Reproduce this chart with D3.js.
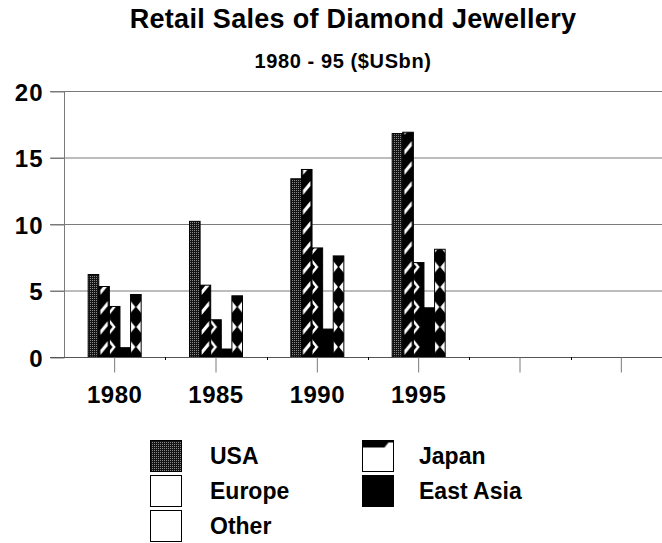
<!DOCTYPE html>
<html>
<head>
<meta charset="utf-8">
<script src="https://cdn.jsdelivr.net/npm/d3@7"></script>
<style>
  html, body { margin: 0; padding: 0; background: #fff; }
  svg { display: block; font-family: "Liberation Sans", Arial, sans-serif; }
</style>
</head>
<body>
<svg id="chart" width="662" height="543"></svg>
<script>
// Retail sales of diamond jewellery by region, $US billions
const years = ["1980", "1985", "1990", "1995"];
const xTickLabels = ["1980", "1985", "1990", "1995", "", ""];
const seriesNames = ["USA", "Japan", "Europe", "East Asia", "Other"];
const usa = [6.2, 10.2, 13.4, 16.8];
const japan = [5.3, 5.4, 14.1, 16.9];
const europe = [3.8, 2.8, 8.2, 7.1];
const eastAsia = [0.7, 0.6, 2.1, 3.7];
const other = [4.7, 4.6, 7.6, 8.1];
const yTicks = [0, 5, 10, 15, 20];
const titleText = "Retail Sales of Diamond Jewellery";
const subtitleText = "1980 - 95 ($USbn)";

const seriesValues = { "USA": usa, "Japan": japan, "Europe": europe, "East Asia": eastAsia, "Other": other };

const svg = d3.select("#chart");
const defs = svg.append("defs");

const x = d3.scaleBand().domain(d3.range(xTickLabels.length)).range([64, 672]);
const y = d3.scaleLinear().domain([0, 20]).range([357, 91]);
const inner = d3.scaleBand().domain(seriesNames).range([-26.5, 26.5]);

// ---- titles
svg.append("text")
  .attr("x", 353).attr("y", 28)
  .attr("text-anchor", "middle")
  .style("font-size", "27px").style("font-weight", "bold")
  .style("letter-spacing", "0.3px")
  .text(titleText);
svg.append("text")
  .attr("x", 343).attr("y", 68)
  .attr("text-anchor", "middle")
  .style("font-size", "20px").style("font-weight", "bold")
  .style("letter-spacing", "0.6px")
  .text(subtitleText);

// ---- gridlines
svg.append("g").selectAll("line").data(yTicks).join("line")
  .attr("x1", 50).attr("x2", 662)
  .attr("y1", d => y(d) + 0.5).attr("y2", d => y(d) + 0.5)
  .attr("stroke", "#7a7a7a").attr("stroke-width", 1);

// ---- y axis
const yAxis = svg.append("g")
  .attr("transform", "translate(64.5,0.5)")
  .call(d3.axisLeft(y).tickValues(yTicks).tickSize(14).tickPadding(7).tickFormat(d3.format("d")));
yAxis.select(".domain").attr("stroke", "#7a7a7a").attr("d", `M0,${y(20)}V${y(0)}`);
yAxis.selectAll(".tick line").attr("stroke", "#7a7a7a");
yAxis.selectAll(".tick text").attr("dy", "0.36em")
  .style("font-size", "24px").style("font-weight", "bold")
  .style("letter-spacing", "1px").attr("fill", "#000");

// ---- patterns
const usaPat = defs.append("pattern").attr("id", "pat-usa")
  .attr("patternUnits", "userSpaceOnUse").attr("width", 2).attr("height", 2);
usaPat.append("rect").attr("width", 2).attr("height", 2).attr("fill", "#141414");
usaPat.append("rect").attr("width", 1).attr("height", 1).attr("fill", "#8a8a8a");

const period = 20;
function barPattern(id, name, bx, bw) {
  const p = defs.append("pattern").attr("id", id)
    .attr("patternUnits", "userSpaceOnUse")
    .attr("x", bx).attr("y", y(0))
    .attr("width", bw).attr("height", period);
  const w = bw;
  if (name === "Japan") {
    p.append("rect").attr("width", w).attr("height", period).attr("fill", "#000");
    p.append("polygon").attr("fill", "#fff")
      .attr("points", `${w*0.15},13 ${w*0.85},4 ${w*0.85},9 ${w*0.15},18`);
  } else if (name === "Europe") {
    p.append("rect").attr("width", w).attr("height", period).attr("fill", "#000");
    p.append("polygon").attr("fill", "#fff")
      .attr("points", `0,2 ${w*0.6},10 0,18 0,14 ${w*0.3},10 0,6`);
  } else if (name === "Other") {
    p.append("rect").attr("width", w).attr("height", period).attr("fill", "#000");
    p.append("polygon").attr("fill", "#fff")
      .attr("points", `0,4 ${w*0.45},10 0,16`);
    p.append("polygon").attr("fill", "#fff")
      .attr("points", `${w},4 ${w*0.55},10 ${w},16`);
  }
  return `url(#${id})`;
}

// ---- bars
const barData = [];
years.forEach((yr, i) => {
  seriesNames.forEach((s, j) => {
    barData.push({ slot: i, series: s, value: seriesValues[s][i], sIdx: j });
  });
});

svg.append("g").selectAll("rect").data(barData).join("rect")
  .attr("x", d => x(d.slot) + x.bandwidth() / 2 + inner(d.series))
  .attr("y", d => y(d.value))
  .attr("width", inner.bandwidth())
  .attr("height", d => y(0) - y(d.value))
  .attr("fill", d => {
    const bx = x(d.slot) + x.bandwidth() / 2 + inner(d.series);
    if (d.series === "USA") return "url(#pat-usa)";
    if (d.series === "East Asia") return "#000";
    return barPattern(`pat-${d.sIdx}-${d.slot}`, d.series, bx, inner.bandwidth());
  })
  .attr("stroke", "#000").attr("stroke-width", 1);

// ---- x axis
const xAxis = svg.append("g")
  .attr("transform", `translate(0,${y(0) + 0.5})`)
  .call(d3.axisBottom(x).tickSize(15).tickPadding(13).tickFormat(i => xTickLabels[i]));
xAxis.select(".domain").attr("stroke", "#555").attr("d", "M50,0H662");
xAxis.selectAll(".tick line").attr("stroke", "#7a7a7a");
xAxis.selectAll(".tick text")
  .style("font-size", "24px").style("font-weight", "bold")
  .style("letter-spacing", "0.5px").attr("fill", "#000");
// short marks on slot boundaries
svg.append("g").selectAll("line").data(d3.range(1, xTickLabels.length)).join("line")
  .attr("x1", d => Math.round(x(d)) + 0.5).attr("x2", d => Math.round(x(d)) + 0.5)
  .attr("y1", y(0)).attr("y2", y(0) + 3)
  .attr("stroke", "#000");

// ---- legend
const legendLayout = [
  { name: "USA", col: 0, row: 0 },
  { name: "Europe", col: 0, row: 1 },
  { name: "Other", col: 0, row: 2 },
  { name: "Japan", col: 1, row: 0 },
  { name: "East Asia", col: 1, row: 1 }
];
const jpLegend = defs.append("pattern").attr("id", "pat-jp-legend")
  .attr("patternUnits", "objectBoundingBox").attr("patternContentUnits", "userSpaceOnUse")
  .attr("width", 1).attr("height", 1);
jpLegend.append("rect").attr("width", 31).attr("height", 31).attr("fill", "#fff");
jpLegend.append("polygon").attr("fill", "#000").attr("points", "0,0 31,0 31,2 26,2 22,7 0,7");
jpLegend.append("polygon").attr("fill", "#000").attr("points", "16,2 6,2 2,7 12,7");
const legendFill = { "USA": "url(#pat-usa)", "Japan": "url(#pat-jp-legend)", "Europe": "#fff", "East Asia": "#000", "Other": "#fff" };

const leg = svg.append("g").selectAll("g").data(legendLayout).join("g")
  .attr("transform", d => `translate(${d.col ? 362 : 150},${440 + d.row * 35})`);
leg.append("rect")
  .attr("x", 0.5).attr("y", 0.5).attr("width", 31).attr("height", 31)
  .attr("fill", d => legendFill[d.name]).attr("stroke", "#000");
leg.append("text")
  .attr("x", d => d.col ? 57 : 60).attr("y", 24)
  .style("font-size", "23px").style("font-weight", "bold")
  .text(d => d.name);
</script>
</body>
</html>
